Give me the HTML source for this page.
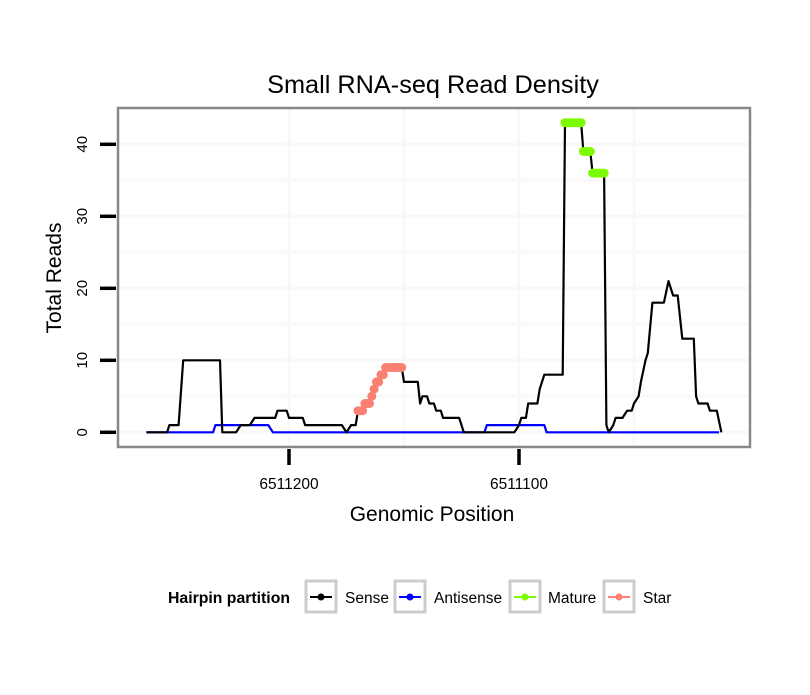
<!DOCTYPE html>
<html><head><meta charset="utf-8"><style>
body{margin:0;background:#fff;font-family:"Liberation Sans",sans-serif;}
svg text{font-family:"Liberation Sans",sans-serif;}
</style></head><body>
<svg id="chart" width="810" height="690" viewBox="0 0 810 690">
<rect width="810" height="690" fill="#fff"/>
<text x="433" y="93" text-anchor="middle" font-size="25.3">Small RNA-seq Read Density</text>
<g id="grid"></g>
<g id="series"></g>
<rect x="118" y="108" width="632" height="339" fill="none" stroke="#888" stroke-width="2.5"/>
<g id="yaxis"></g>
<g id="xaxis"></g>
<text x="432" y="521" text-anchor="middle" font-size="21">Genomic Position</text>
<text transform="translate(61,278) rotate(-90)" text-anchor="middle" font-size="21">Total Reads</text>
<g>
<text x="168" y="603" font-size="15.8" font-weight="bold">Hairpin partition</text>
<g><rect x="306" y="581" width="30" height="31" fill="#fff" stroke="#ccc" stroke-width="3"/><line x1="310" y1="597" x2="332" y2="597" stroke="#000" stroke-width="2"/><circle cx="321" cy="597" r="3.5" fill="#000"/><text x="345" y="603" font-size="15.5">Sense</text></g>
<g><rect x="395" y="581" width="30" height="31" fill="#fff" stroke="#ccc" stroke-width="3"/><line x1="399" y1="597" x2="421" y2="597" stroke="#00f" stroke-width="2"/><circle cx="410" cy="597" r="3.5" fill="#00f"/><text x="434" y="603" font-size="15.5">Antisense</text></g>
<g><rect x="510" y="581" width="30" height="31" fill="#fff" stroke="#ccc" stroke-width="3"/><line x1="514" y1="597" x2="536" y2="597" stroke="#7cfc00" stroke-width="2"/><circle cx="525" cy="597" r="3.5" fill="#7cfc00"/><text x="548" y="603" font-size="15.5">Mature</text></g>
<g><rect x="604" y="581" width="30" height="31" fill="#fff" stroke="#ccc" stroke-width="3"/><line x1="608" y1="597" x2="630" y2="597" stroke="#fa8072" stroke-width="2"/><circle cx="619" cy="597" r="3.5" fill="#fa8072"/><text x="643" y="603" font-size="15.5">Star</text></g>
</g>
</svg>
<script>
const yTicks = [0, 10, 20, 30, 40];
const yMinor = [5, 15, 25, 35];
const xTicks = [6511200, 6511100];
const xTickLabels = ["6511200", "6511100"];
const xMinor = [6511150, 6511050];
const sensePos = [6511262,6511253,6511252,6511248,6511246,6511230,6511229,6511223,6511221,6511217,6511215,6511206,6511205,6511201,6511200,6511194,6511193,6511177,6511175,6511173,6511171,6511170,6511168,6511167,6511165,6511164,6511163,6511162,6511161,6511160,6511159,6511158,6511151,6511150,6511145,6511144,6511143,6511142,6511140,6511139,6511137,6511136,6511134,6511133,6511126,6511124,6511102,6511100,6511099,6511097,6511096,6511092,6511091,6511089,6511081,6511080,6511073,6511072,6511069,6511068,6511063,6511062,6511061,6511059,6511058,6511055,6511053,6511051,6511050,6511048,6511047,6511045,6511044,6511042,6511037,6511035,6511033,6511031,6511030,6511029,6511024,6511023,6511022,6511018,6511017,6511014,6511012];
const senseVal = [0,0,1,1,10,10,0,0,1,1,2,2,3,3,2,2,1,1,0,1,1,3,3,4,4,5,6,7,7,8,8,9,9,7,7,7,4,5,5,4,4,3,3,2,2,0,0,1,2,2,4,4,6,8,8,43,43,39,39,36,36,1,0,1,2,2,3,3,4,5,7,10,11,18,18,21,19,19,16,13,13,5,4,4,3,3,0];
const antiPos = [6511262,6511233,6511232,6511209,6511207,6511115,6511114,6511089,6511088,6511013];
const antiVal = [0,0,1,1,0,0,1,1,0,0];
const maturePos = [6511080,6511079,6511078,6511077,6511076,6511075,6511074,6511073,6511072,6511071,6511070,6511069,6511068,6511067,6511066,6511065,6511064,6511063];
const matureVal = [43,43,43,43,43,43,43,43,39,39,39,39,36,36,36,36,36,36];
const starPos = [6511170,6511169,6511168,6511167,6511166,6511165,6511164,6511163,6511162,6511161,6511160,6511159,6511158,6511157,6511156,6511155,6511154,6511153,6511152,6511151];
const starVal = [3,3,3,4,4,4,5,6,7,7,8,8,9,9,9,9,9,9,9,9];

const NS = "http://www.w3.org/2000/svg";
const X = p => 289 + (6511200 - p) * 2.3;
const Y = v => 432.3 - v * 7.2;
function mk(parent, tag, attrs) {
  const e = document.createElementNS(NS, tag);
  for (const k in attrs) e.setAttribute(k, attrs[k]);
  document.getElementById(parent).appendChild(e);
  return e;
}
yMinor.concat(yTicks).forEach(v => {
  const l = mk("grid", "line", {x1: 119, x2: 749, y1: Y(v), y2: Y(v), stroke: "#f8f8f8", "stroke-width": 3});
  
  
});
xMinor.concat(xTicks).forEach(p => {
  const l = mk("grid", "line", {x1: X(p), x2: X(p), y1: 109, y2: 446, stroke: "#f8f8f8", "stroke-width": 3});
  
  
});
yTicks.forEach(v => {
  const t = mk("yaxis", "line", {x1: 100, x2: 116, y1: Y(v), y2: Y(v), stroke: "#000", "stroke-width": 3.5});
  
  
  const tx = mk("yaxis", "text", {transform: `translate(87,${Y(v)}) rotate(-90)`, "text-anchor": "middle", "font-size": 15});
  tx.textContent = String(v);
  
  
});
xTicks.forEach((p, i) => {
  const t = mk("xaxis", "line", {x1: X(p), x2: X(p), y1: 449, y2: 465, stroke: "#000", "stroke-width": 3.5});
  
  
  const tx = mk("xaxis", "text", {x: X(p), y: 489, "text-anchor": "middle", "font-size": 15.5});
  tx.textContent = xTickLabels[i];
  
  
});
function line(pos, val, color, name) {
  const pts = pos.map((p, i) => X(p).toFixed(1) + "," + Y(val[i]).toFixed(1)).join(" ");
  const l = mk("series", "polyline", {points: pts, fill: "none", stroke: color, "stroke-width": 2.2, "stroke-linejoin": "round"});
  
  
}
function dots(pos, val, color, name) {
  pos.forEach((p, i) => {
    const c = mk("series", "circle", {cx: X(p), cy: Y(val[i]), r: 4.5, fill: color});
    
    
  });
}
line(antiPos, antiVal, "#0000ff", "antisense-line");
line(sensePos, senseVal, "#000000", "sense-line");
dots(starPos, starVal, "#fa8072", "star-point");
dots(maturePos, matureVal, "#7cfc00", "mature-point");
</script>
</body></html>
